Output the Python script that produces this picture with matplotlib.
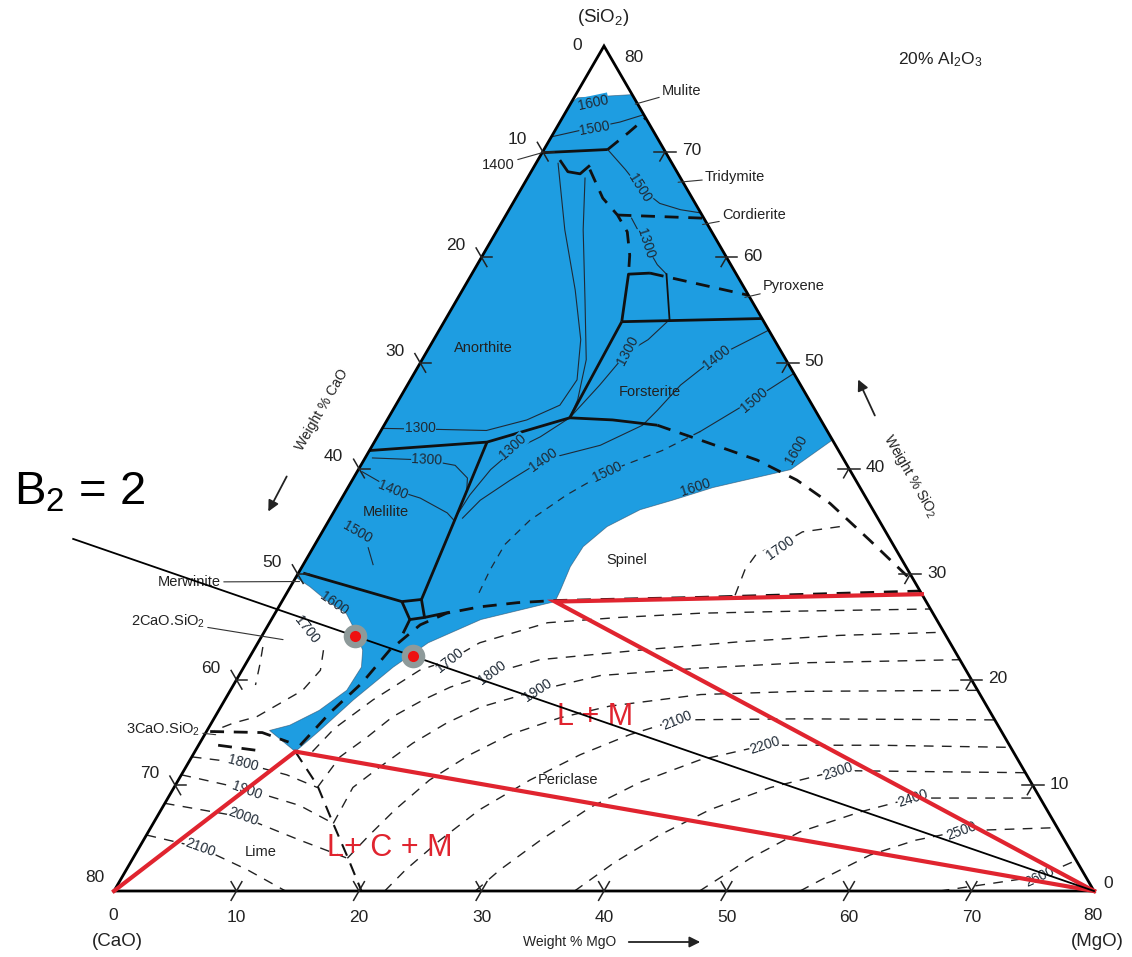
import numpy as np
import matplotlib.pyplot as plt

plt.rcParams['font.family'] = ['Liberation Sans', 'DejaVu Sans']
plt.rcParams['mathtext.fontset'] = 'custom'
plt.rcParams['mathtext.rm'] = 'Liberation Sans'
plt.rcParams['mathtext.it'] = 'Liberation Sans:italic'

# CaO-MgO-SiO2 section at 20 wt% Al2O3
# every composition below is (MgO, SiO2) in wt%, CaO = 80 - MgO - SiO2

# liquid at 1600 C (shaded field)
liquid = [(0.0, 74.6), (0.3, 75.1), (4.6, 75.4), (37.3, 42.7), (35.3, 39.9), (29.8, 38.2),
          (27.1, 37.0), (24.9, 36.1), (23.0, 34.5), (22.0, 32.6), (21.9, 30.7), (22.2, 28.5),
          (22.3, 27.4), (17.1, 25.7), (13.9, 23.5), (12.2, 21.2), (10.5, 18.1), (9.2, 15.2),
          (8.2, 13.2), (5.1, 15.2), (6.5, 15.7), (8.2, 17.1), (9.5, 19.0), (9.6, 21.2),
          (8.9, 22.8), (7.6, 24.4), (5.8, 26.3), (3.6, 27.5), (1.6, 28.8), (0.0, 29.7)]

# tie lines L+C+M and L+M
tie_lcm = [(0.0, 0.0), (8.2, 13.2), (80.0, 0.0)]
tie_lm = [(80.0, 0.0), (22.3, 27.4), (51.9, 28.1)]

# basicity line B2 = CaO/SiO2
b2 = 2.0
b2_mgo = [-20.0, 80.0]
b2_points_mgo = [7.6, 13.3]

# field boundaries, solid
bnd_silica = [(0.0, 69.9), (5.2, 70.2)]
bnd_cup = [(1.8, 69.2), (3.0, 68.1), (4.1, 67.9), (4.5, 68.7)]
bnd_box_top = [(14.5, 53.9), (12.8, 58.4), (14.5, 58.5)]
bnd_box_side = [(15.9, 58.4), (18.3, 54.1)]
bnd_pyroxene = [(14.5, 53.9), (25.8, 54.2)]
bnd_an_fo = [(14.5, 53.9), (14.8, 44.8), (18.4, 44.6), (22.3, 44.1)]
bnd_an_mel = [(0.0, 41.7), (9.2, 42.5), (14.8, 44.8)]
bnd_mel_fo = [(9.2, 42.5), (10.3, 34.8), (11.3, 27.6)]
bnd_merwinite = [(0.4, 30.1), (9.8, 27.4)]
bnd_mw_box = [(9.8, 27.4), (11.3, 27.6), (12.4, 25.9), (11.3, 25.7), (9.8, 27.4)]
bnd_stub_a = [(12.4, 25.9), (14.2, 26.4)]
bnd_stub_b = [(11.3, 25.7), (11.4, 24.4)]

# field boundaries, dashed
dsh_silica = [(5.2, 70.2), (6.1, 71.8), (6.8, 73.2)]
dsh_tridymite = [(4.7, 68.3), (7.1, 65.6), (9.1, 64.0), (10.7, 62.4), (12.0, 60.2), (12.8, 58.4)]
dsh_cordierite = [(9.1, 64.0), (16.3, 63.7)]
dsh_pyroxene = [(14.5, 58.5), (23.6, 56.4)]
dsh_spinel = [(22.3, 44.1), (26.5, 42.7), (32.1, 40.8), (36.3, 38.9), (40.1, 36.7),
              (45.1, 33.2), (50.0, 29.7)]
dsh_periclase = [(8.3, 13.8), (9.2, 16.9), (10.4, 19.7), (11.1, 22.8), (12.4, 25.2),
                 (14.0, 26.3), (16.4, 26.9), (19.3, 27.3), (22.2, 27.5), (33.9, 27.8), (51.6, 28.4)]
dsh_lime = [(8.2, 13.2), (11.6, 10.0), (14.6, 6.5), (17.3, 3.4), (20.2, 0.0)]
dsh_c3s_a = [(0.3, 15.1), (4.6, 15.0), (7.2, 14.1)]
dsh_c3s_b = [(1.6, 13.8), (5.1, 13.3)]

# liquidus isotherms inside the liquid field
iso_top = [(0.0, 71.4), (2.0, 72.0), (4.9, 72.8), (6.5, 73.5)]
iso_trid = [(5.2, 70.2), (7.6, 68.3), (9.6, 66.6), (12.0, 65.1), (14.0, 64.5), (15.8, 64.2)]
iso_trid_1300 = [(10.4, 63.7), (12.8, 61.2), (14.7, 59.3), (15.9, 58.4)]
iso_an_a = [(1.8, 68.9), (5.5, 62.6), (9.2, 56.9), (12.0, 52.2), (13.6, 48.4), (13.4, 46.0),
            (11.4, 44.6), (8.6, 43.6), (4.7, 43.7), (0.0, 43.8)]
iso_an_b = [(4.7, 67.5), (7.0, 62.6), (10.5, 55.9), (13.4, 50.3), (14.6, 46.5), (14.8, 44.8)]
iso_fo_1300 = [(18.3, 54.1), (17.5, 52.2), (16.4, 51.0), (15.7, 47.9), (14.8, 44.8),
               (13.3, 43.0), (11.7, 41.7), (10.8, 39.9), (10.3, 37.5), (10.2, 35.6)]
iso_fo_1400 = [(26.9, 53.1), (23.9, 50.6), (22.3, 47.9), (21.6, 45.5), (21.1, 44.1),
               (18.6, 42.2), (14.6, 40.8), (12.9, 38.9), (11.4, 37.0), (10.8, 35.3)]
iso_fo_1500 = [(31.0, 49.0), (28.9, 46.5), (26.1, 43.5)]
iso_fo_1500_ext = [(26.1, 43.5), (23.9, 41.7), (20.4, 39.7), (18.2, 37.5), (16.4, 35.1),
                   (15.5, 32.8), (15.5, 30.4), (15.7, 28.0)]
iso_mel_1300 = [(0.6, 41.0), (5.1, 40.8), (7.7, 40.3), (9.3, 39.1), (9.8, 38.0)]
iso_mel_1400 = [(0.4, 39.7), (3.8, 38.0), (6.4, 37.2), (9.3, 35.8), (10.2, 35.1)]
iso_mel_1500 = [(4.5, 32.5), (5.7, 30.9)]

# isotherms in the solid fields
iso_sp_1700 = [(36.7, 28.0), (36.3, 30.4), (36.5, 32.0), (38.0, 32.8), (39.2, 34.0), (42.0, 34.5)]
iso_c2s_1700 = [(5.7, 22.8), (6.4, 20.9), (5.9, 19.0), (4.7, 17.8), (3.4, 16.5), (1.8, 15.9), (0.6, 15.2)]
iso_c2s_in = [(0.6, 23.1), (1.2, 21.4), (1.8, 19.5)]

per_1700 = [(9.6, 13.2), (10.3, 15.4), (12.1, 18.1), (14.5, 20.9), (16.5, 21.9), (18.1, 23.5),
            (22.7, 25.4), (28.3, 25.9), (34.7, 26.3), (42.7, 26.5), (53.3, 26.7)]
per_1800 = [(11.7, 9.8), (12.1, 12.7), (13.4, 14.6), (14.5, 16.5), (16.2, 18.1), (17.8, 19.3),
            (20.5, 20.6), (23.8, 21.9), (31.5, 22.8), (39.3, 23.6), (47.1, 24.2), (55.5, 24.5)]
per_1900 = [(14.7, 6.4), (14.6, 9.8), (15.8, 11.7), (17.4, 14.0), (19.2, 15.9), (21.2, 17.4),
            (25.1, 19.0), (29.5, 20.4), (37.3, 21.1), (45.2, 21.6), (58.1, 21.9)]
per_2000 = [(17.5, 3.1), (18.2, 5.3), (19.1, 7.7), (20.5, 10.5), (22.6, 12.9), (24.9, 14.8),
            (28.2, 16.4), (31.7, 17.5), (38.6, 18.6), (46.5, 18.9), (61.0, 19.0)]
per_2100 = [(22.1, 0.0), (22.8, 2.0), (24.2, 4.8), (26.0, 7.7), (28.7, 10.5), (31.6, 12.9),
            (34.7, 14.8), (37.9, 16.2), (47.9, 16.3), (63.8, 16.2)]
per_2200 = [(29.5, 0.0), (30.5, 2.0), (32.4, 4.8), (34.9, 7.9), (37.8, 10.3), (41.6, 12.4),
            (46.2, 13.8), (55.6, 13.8), (66.4, 13.6)]
per_2300 = [(37.6, 0.0), (39.5, 2.7), (41.9, 5.3), (44.8, 7.7), (48.7, 9.8), (53.4, 11.4),
            (61.0, 11.3), (68.8, 11.2)]
per_2400 = [(47.8, 0.0), (50.4, 3.1), (53.2, 5.6), (57.2, 7.5), (60.8, 8.8), (71.2, 8.8)]
per_2500 = [(56.0, 0.0), (57.7, 1.5), (60.0, 3.4), (63.0, 4.8), (66.4, 5.7), (74.0, 6.0)]
per_2600 = [(67.4, 0.0), (71.2, 0.7), (74.9, 1.4), (77.1, 2.9)]

lime_1800 = [(0.0, 12.7), (4.5, 12.1), (8.6, 11.0), (11.7, 9.8)]
lime_1900 = [(0.0, 11.0), (6.1, 9.6), (11.1, 8.1), (14.7, 6.4)]
lime_2000 = [(0.0, 8.3), (7.0, 7.0), (12.8, 4.8), (17.5, 3.1)]
lime_2100 = [(0.0, 5.3), (5.0, 4.1), (9.9, 2.0), (14.0, 0.0)]

tick_values = [10, 20, 30, 40, 50, 60, 70]

BLUE = '#1e9de1'
RED = '#e0242f'
INK = '#1f2a36'

H = np.sqrt(3) / 2


def tern(mgo, sio2):
    mgo = np.asarray(mgo, float)
    sio2 = np.asarray(sio2, float)
    return (mgo + sio2 / 2.0) / 80.0, sio2 / 80.0 * H


def P(x, y):
    # figure pixel position -> plot units, used for text placement
    return (x - 114) / 980.0, (891 - y) / 975.7


fig = plt.figure(figsize=(11.32, 9.57), dpi=100)
ax = fig.add_axes([0, 0, 1, 1])
ax.set_xlim(-114 / 980.0, 1018 / 980.0)
ax.set_ylim(-66 / 975.7, 891 / 975.7)
ax.axis('off')


def line(pts, **kw):
    m, s = zip(*pts)
    x, y = tern(m, s)
    ax.plot(x, y, **kw)


thin = dict(color=INK, lw=0.8, zorder=3)
bold = dict(color='#111111', lw=2.0, zorder=4, solid_capstyle='butt')
bdash = dict(color='#111111', lw=2.0, zorder=4, dashes=(5, 3.5))
tdash = dict(color='#222222', lw=1.0, zorder=3, dashes=(7, 6))

# liquid field
lx, ly = tern(*zip(*liquid))
ax.fill(lx, ly, color=BLUE, lw=0, zorder=1)
ax.plot(np.r_[lx, lx[0]], np.r_[ly, ly[0]], color='#2b4a66', lw=0.6, alpha=0.6, zorder=2)

for pts in [iso_top, iso_trid, iso_trid_1300, iso_an_a, iso_an_b, iso_fo_1300, iso_fo_1400,
            iso_fo_1500, iso_mel_1300, iso_mel_1400, iso_mel_1500]:
    line(pts, **thin)
line(iso_fo_1500_ext, color=INK, lw=0.9, zorder=3, dashes=(6, 5))

for pts in [bnd_silica, bnd_cup, bnd_box_top, bnd_pyroxene, bnd_an_fo, bnd_an_mel,
            bnd_mel_fo, bnd_merwinite, bnd_mw_box, bnd_stub_a, bnd_stub_b]:
    line(pts, **bold)
line(bnd_box_side, color='#111111', lw=1.3, zorder=4)

for pts in [dsh_silica, dsh_tridymite, dsh_cordierite, dsh_pyroxene, dsh_spinel,
            dsh_periclase, dsh_c3s_a, dsh_c3s_b]:
    line(pts, **bdash)
line(dsh_lime, color='#111111', lw=1.5, zorder=4, dashes=(6, 4))

for pts in [iso_sp_1700, iso_c2s_1700, iso_c2s_in, per_1700, per_1800, per_1900, per_2000,
            per_2100, per_2200, per_2300, per_2400, per_2500, per_2600,
            lime_1800, lime_1900, lime_2000, lime_2100]:
    line(pts, **tdash)

# triangle and ticks
tx, ty = tern([0, 80, 0, 0], [0, 0, 80, 0])
ax.plot(tx, ty, color='black', lw=2.0, zorder=6, solid_joinstyle='miter')

L = 0.011
c60, s60 = 0.5, H
edges = [
    # (point on edge, direction crossing the edge, inner arm)
    (lambda v: tern(v, 0), (c60, s60), (-c60, s60)),
    (lambda v: tern(0, 80 - v), (c60, -s60), (1.0, 0.0)),
    (lambda v: tern(80 - v, v), (1.0, 0.0), (-c60, -s60)),
]
for pos, d1, d2 in edges:
    for v in tick_values:
        px, py = pos(v)
        ax.plot([px - L * d1[0], px + L * d1[0]], [py - L * d1[1], py + L * d1[1]],
                color='#222222', lw=1.1, zorder=6)
        ax.plot([px, px + L * d2[0]], [py, py + L * d2[1]], color='#222222', lw=1.1, zorder=6)

# tie lines, basicity line, points
line(tie_lcm, color=RED, lw=3.0, zorder=7, solid_joinstyle='miter')
line(tie_lm, color=RED, lw=3.0, zorder=7, solid_joinstyle='miter')
b2_sio2 = [(80 - m) / (1 + b2) for m in b2_mgo]
bx, by = tern(b2_mgo, b2_sio2)
ax.plot(bx, by, color='black', lw=1.3, zorder=8)
dm = np.array(b2_points_mgo)
dx, dy = tern(dm, (80 - dm) / (1 + b2))
ax.plot(dx, dy, 'o', ms=17, color='#8e9a9a', mec='none', zorder=9)
ax.plot(dx, dy, 'o', ms=8, color='#ee1111', mec='none', zorder=10)

# tick labels
tfs = 12.5
for v in tick_values:
    x, y = tern(v, 0)
    ax.text(x, y - 0.027, str(v), ha='center', va='center', fontsize=tfs, color='#222222')
    x, y = tern(0, 80 - v)
    ax.text(x - 0.026, y + 0.012, str(v), ha='center', va='center', fontsize=tfs, color='#222222')
    x, y = tern(80 - v, v)
    ax.text(x + 0.027, y + 0.001, str(v), ha='center', va='center', fontsize=tfs, color='#222222')

ax.text(*P(113, 915), '0', ha='center', va='center', fontsize=tfs, color='#222222')
ax.text(*P(117, 942), '(CaO)', ha='center', va='center', fontsize=13.5, color='#222222')
ax.text(*P(95, 877), '80', ha='center', va='center', fontsize=tfs, color='#222222')
ax.text(*P(1093, 915), '80', ha='center', va='center', fontsize=tfs, color='#222222')
ax.text(*P(1097, 942), '(MgO)', ha='center', va='center', fontsize=13.5, color='#222222')
ax.text(*P(1108, 884), '0', ha='center', va='center', fontsize=tfs, color='#222222')
ax.text(*P(603, 18), '(SiO$_2$)', ha='center', va='center', fontsize=13.5, color='#222222')
ax.text(*P(577, 45), '0', ha='center', va='center', fontsize=tfs, color='#222222')
ax.text(*P(634, 57), '80', ha='center', va='center', fontsize=tfs, color='#222222')
ax.text(*P(940, 60), '20% Al$_2$O$_3$', ha='center', va='center', fontsize=12.5, color='#222222')

# axis titles with arrows
ax.text(*P(322, 410), 'Weight % CaO', rotation=60, ha='center', va='center', fontsize=10, color='#222222')
ax.annotate('', xy=P(267, 514), xytext=P(288, 474),
            arrowprops=dict(arrowstyle='-|>', color='#222222', lw=1.3, mutation_scale=16))
ax.text(*P(910, 476), 'Weight % SiO$_2$', rotation=-60, ha='center', va='center', fontsize=10, color='#222222')
ax.annotate('', xy=P(857, 377), xytext=P(876, 418),
            arrowprops=dict(arrowstyle='-|>', color='#222222', lw=1.3, mutation_scale=16))
ax.text(*P(570, 942), 'Weight % MgO', ha='center', va='center', fontsize=10, color='#222222')
ax.annotate('', xy=P(703, 942), xytext=P(626, 942),
            arrowprops=dict(arrowstyle='-|>', color='#222222', lw=1.3, mutation_scale=16))

# phase field names
pfs = 10.5
for s, x, y in [('Anorthite', 483, 348), ('Forsterite', 650, 392), ('Melilite', 386, 512),
                ('Spinel', 627, 560), ('Periclase', 568, 780), ('Lime', 261, 852)]:
    ax.text(*P(x, y), s, ha='center', va='center', fontsize=pfs, color='#222222', zorder=5)

lead = dict(arrowstyle='-', color='#333333', lw=0.8, shrinkA=0, shrinkB=0)
for s, pt, x, y in [('Mulite', (5.3, 74.5), 662, 91), ('Tridymite', (12.5, 67.1), 705, 177),
                    ('Cordierite', (16.5, 63.1), 722, 215), ('Pyroxene', (23.4, 56.2), 763, 286)]:
    ax.annotate(s, xy=tern(*pt), xytext=P(x, y), ha='left', va='center', fontsize=pfs,
                color='#222222', arrowprops=lead, zorder=6)
for s, pt, x, y in [('Merwinite', (0.5, 29.3), 221, 582), ('2CaO.SiO$_2$', (1.9, 23.8), 205, 621),
                    ('3CaO.SiO$_2$', (0.9, 14.8), 200, 729)]:
    ax.annotate(s, xy=tern(*pt), xytext=P(x, y), ha='right', va='center', fontsize=pfs,
                color='#222222', arrowprops=lead, zorder=6)
ax.annotate('1400', xy=tern(0.0, 69.9), xytext=P(515, 165), ha='right', va='center',
            fontsize=pfs, color='#222222', arrowprops=lead, zorder=6)

# isotherm labels
ifs = 10


def tlabel(s, x, y, rot, bg):
    box = dict(facecolor=bg, edgecolor='none', pad=0.3) if bg else None
    ax.text(*P(x, y), s, rotation=rot, ha='center', va='center', fontsize=ifs, color=INK,
            zorder=5, bbox=box)


for s, x, y, r in [('1600', 593, 103, 12), ('1500', 595, 128, 10), ('1500', 640, 188, -58),
                   ('1300', 646, 243, -72), ('1300', 628, 350, 62), ('1400', 717, 357, 38),
                   ('1500', 754, 400, 40), ('1300', 420, 428, 0), ('1300', 427, 460, -3),
                   ('1400', 393, 490, -22), ('1500', 357, 532, -30), ('1300', 513, 447, 42),
                   ('1400', 543, 460, 35), ('1500', 607, 472, 25)]:
    tlabel(s, x, y, r, BLUE)
for s, x, y, r in [('1600', 695, 487, 18), ('1600', 796, 450, 60), ('1600', 334, 604, -35)]:
    tlabel(s, x, y, r, None)

for s, x, y, r in [('1700', 307, 630, -52), ('1700', 780, 548, 35), ('1700', 450, 660, 38),
                   ('1800', 492, 673, 36), ('1900', 538, 690, 33), ('2100', 677, 720, 22),
                   ('2200', 765, 745, 18), ('2300', 838, 771, 18), ('2400', 913, 798, 18),
                   ('2500', 962, 831, 20), ('2600', 1040, 877, 25),
                   ('1800', 243, 763, -15), ('1900', 247, 790, -20), ('2000', 243, 817, -20),
                   ('2100', 200, 848, -20)]:
    tlabel(s, x, y, r, 'white')

# phase assemblage labels
ax.text(*P(595, 717), 'L + M', ha='center', va='center', fontsize=22, color=RED, zorder=7)
ax.text(*P(390, 848), 'L+ C + M', ha='center', va='center', fontsize=22, color=RED, zorder=7)
ax.text(*P(80, 492), 'B$_2$ = 2', ha='center', va='center', fontsize=34, color='black', zorder=7)

fig.savefig('out.png', dpi=100)
